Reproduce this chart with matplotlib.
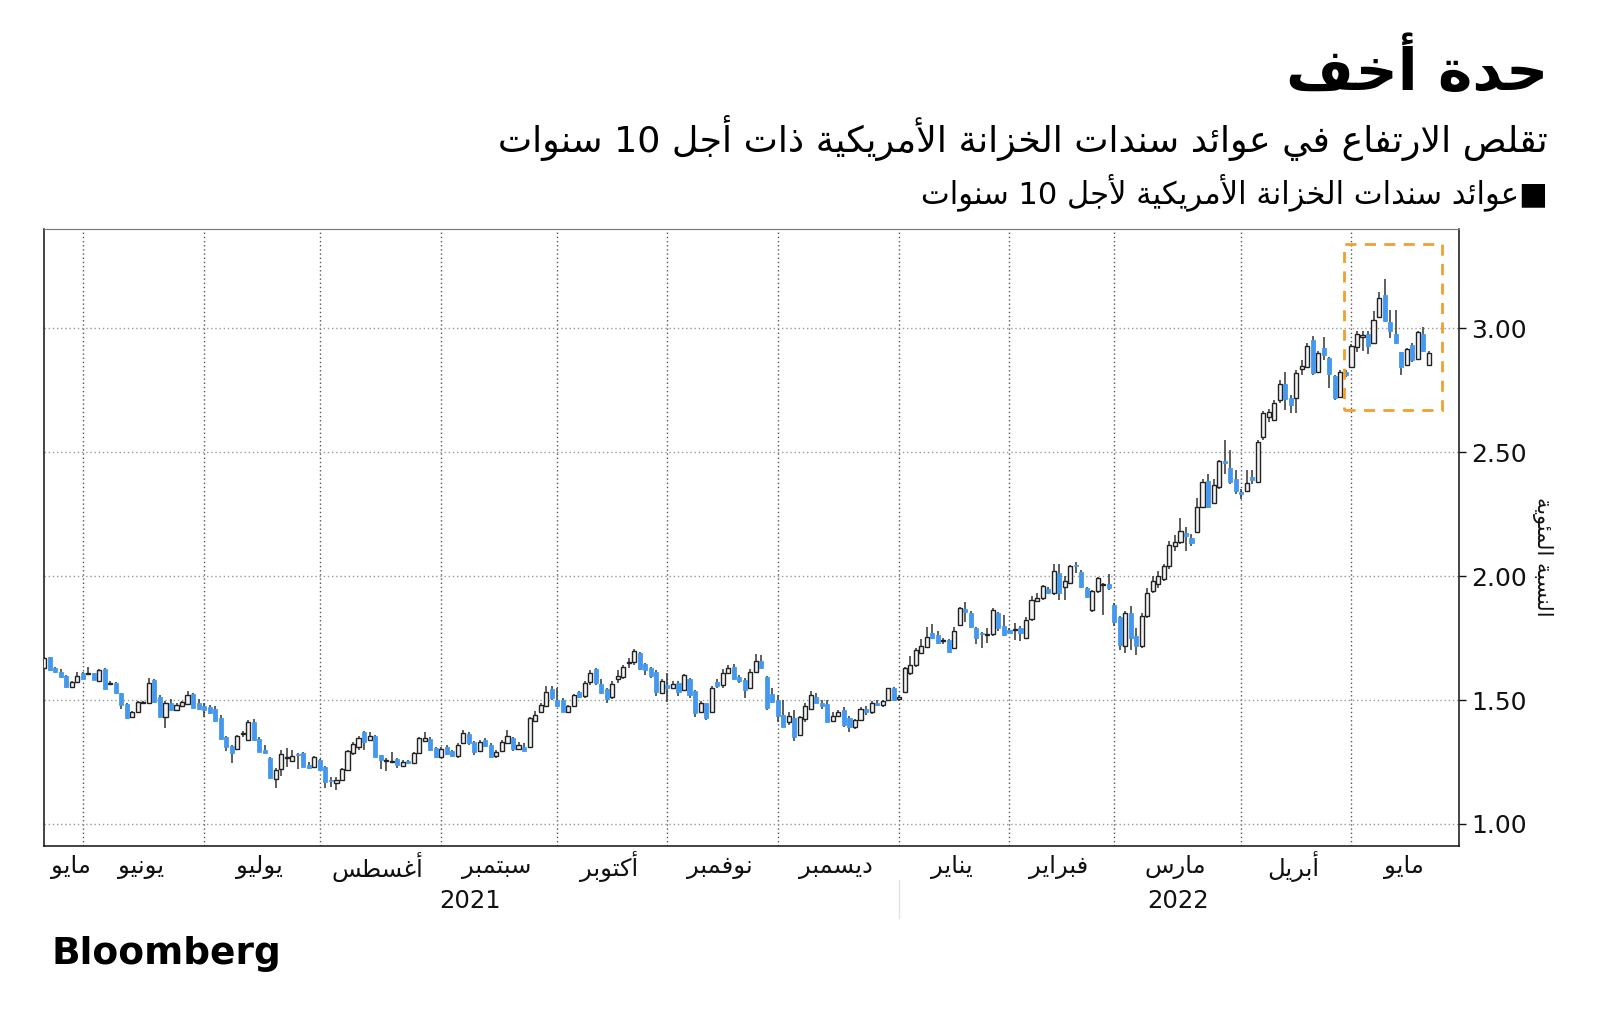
import re
import matplotlib
matplotlib.use('Agg')
import matplotlib.pyplot as plt
import matplotlib.patches as patches
import matplotlib.transforms as transforms
import matplotlib.ticker as ticker
import numpy as np
import pandas as pd

# trading days: 20 May 2021 - 20 May 2022, bond market holidays removed
holidays = ['2021-05-31', '2021-07-05', '2021-09-06', '2021-10-11', '2021-11-11',
            '2021-11-25', '2021-12-24', '2022-01-17', '2022-02-21', '2022-04-15']
dates = pd.bdate_range('2021-05-20', '2022-05-20')
dates = dates[~dates.isin(pd.to_datetime(holidays))]

month_names = ['مايو', 'يونيو', 'يوليو', 'أغسطس', 'سبتمبر', 'أكتوبر', 'نوفمبر',
               'ديسمبر', 'يناير', 'فبراير', 'مارس', 'أبريل', 'مايو']
years = ['2021', '2022']

# 10-year US Treasury yield, % (one row per month)
opens = [
    1.628, 1.672, 1.631, 1.614, 1.598, 1.554, 1.571,
    1.608, 1.604, 1.608, 1.577, 1.626, 1.565, 1.568, 1.527, 1.484, 1.433, 1.453, 1.490, 1.487, 1.581, 1.514, 1.433, 1.487, 1.460, 1.476, 1.483, 1.525, 1.487,
    1.474, 1.471, 1.464, 1.429, 1.350, 1.315, 1.301, 1.362, 1.339, 1.413, 1.343, 1.299, 1.265, 1.180, 1.221, 1.268, 1.255, 1.279, 1.285, 1.238, 1.231,
    1.258, 1.231, 1.176, 1.167, 1.178, 1.218, 1.285, 1.312, 1.370, 1.339, 1.355, 1.278, 1.254, 1.252, 1.261, 1.234, 1.254, 1.245, 1.288, 1.336, 1.343, 1.305,
    1.272, 1.312, 1.296, 1.275, 1.328, 1.363, 1.332, 1.296, 1.339, 1.319, 1.275, 1.296, 1.328, 1.346, 1.301, 1.312, 1.312, 1.415, 1.450, 1.474, 1.545,
    1.500, 1.500, 1.450, 1.476, 1.531, 1.516, 1.574, 1.624, 1.565, 1.543, 1.511, 1.584, 1.592, 1.648, 1.655, 1.689, 1.644, 1.631, 1.615, 1.530,
    1.562, 1.548, 1.568, 1.540, 1.584, 1.538, 1.453, 1.487, 1.453, 1.574, 1.561, 1.611, 1.632, 1.592, 1.581, 1.548, 1.615, 1.659, 1.592, 1.523,
    1.500, 1.440, 1.410, 1.427, 1.360, 1.422, 1.463, 1.514, 1.490, 1.484, 1.417, 1.436, 1.460, 1.427, 1.393, 1.420, 1.465, 1.450, 1.490, 1.480, 1.500, 1.547,
    1.505, 1.534, 1.608, 1.642, 1.689, 1.713, 1.770, 1.763, 1.737, 1.742, 1.709, 1.803, 1.866, 1.853, 1.790, 1.770, 1.764, 1.767, 1.850, 1.797,
    1.783, 1.782, 1.792, 1.750, 1.826, 1.900, 1.911, 1.947, 1.931, 2.014, 1.955, 1.974, 2.040, 2.018, 1.951, 1.864, 1.938, 1.966, 1.968,
    1.884, 1.834, 1.720, 1.850, 1.760, 1.720, 1.840, 1.940, 1.970, 1.990, 2.040, 2.122, 2.139, 2.175, 2.155, 2.176, 2.280, 2.385, 2.296, 2.359, 2.466, 2.435, 2.392,
    2.338, 2.345, 2.400, 2.381, 2.560, 2.640, 2.630, 2.711, 2.776, 2.718, 2.718, 2.835, 2.843, 2.953, 2.825, 2.920, 2.879, 2.808, 2.724, 2.825,
    2.843, 2.923, 2.964, 2.977, 2.940, 3.045, 3.135, 3.027, 2.977, 2.903, 2.852, 2.933, 2.875, 2.977, 2.852,
]
closes = [
    1.669, 1.622, 1.612, 1.592, 1.552, 1.574, 1.598,
    1.585, 1.608, 1.581, 1.622, 1.545, 1.568, 1.527, 1.480, 1.426, 1.453, 1.494, 1.492, 1.570, 1.494, 1.433, 1.490, 1.460, 1.480, 1.491, 1.521, 1.469, 1.463,
    1.460, 1.449, 1.417, 1.343, 1.312, 1.285, 1.355, 1.364, 1.413, 1.339, 1.292, 1.285, 1.185, 1.218, 1.281, 1.272, 1.274, 1.277, 1.231, 1.225, 1.269,
    1.218, 1.171, 1.172, 1.178, 1.220, 1.296, 1.323, 1.348, 1.332, 1.355, 1.272, 1.258, 1.256, 1.255, 1.238, 1.252, 1.245, 1.288, 1.346, 1.346, 1.299, 1.272,
    1.303, 1.284, 1.275, 1.319, 1.369, 1.328, 1.292, 1.332, 1.315, 1.272, 1.292, 1.332, 1.355, 1.301, 1.319, 1.296, 1.426, 1.440, 1.480, 1.531, 1.507,
    1.476, 1.453, 1.476, 1.520, 1.514, 1.568, 1.610, 1.568, 1.530, 1.503, 1.565, 1.597, 1.635, 1.652, 1.698, 1.626, 1.621, 1.597, 1.534, 1.577,
    1.548, 1.563, 1.534, 1.601, 1.520, 1.447, 1.487, 1.426, 1.547, 1.557, 1.611, 1.628, 1.584, 1.575, 1.541, 1.615, 1.659, 1.628, 1.467, 1.494,
    1.436, 1.393, 1.437, 1.350, 1.430, 1.474, 1.521, 1.490, 1.476, 1.413, 1.436, 1.450, 1.400, 1.393, 1.420, 1.465, 1.450, 1.490, 1.480, 1.495, 1.547, 1.500,
    1.512, 1.628, 1.642, 1.702, 1.716, 1.756, 1.749, 1.729, 1.739, 1.695, 1.780, 1.870, 1.857, 1.796, 1.749, 1.767, 1.768, 1.864, 1.790, 1.763,
    1.770, 1.785, 1.770, 1.823, 1.904, 1.913, 1.960, 1.933, 2.022, 1.931, 1.980, 2.039, 2.039, 1.958, 1.917, 1.938, 1.991, 1.970, 1.951,
    1.813, 1.722, 1.850, 1.750, 1.720, 1.840, 1.930, 1.980, 2.000, 2.040, 2.126, 2.139, 2.180, 2.162, 2.135, 2.280, 2.381, 2.280, 2.368, 2.466, 2.455, 2.381, 2.344,
    2.332, 2.377, 2.386, 2.543, 2.657, 2.664, 2.697, 2.776, 2.714, 2.691, 2.821, 2.848, 2.929, 2.819, 2.902, 2.893, 2.816, 2.718, 2.825, 2.812,
    2.929, 2.977, 2.973, 2.929, 3.034, 3.121, 3.031, 2.987, 2.940, 2.843, 2.915, 2.872, 2.983, 2.910, 2.902,
]
highs = [
    1.672, 1.675, 1.635, 1.624, 1.600, 1.576, 1.615,
    1.615, 1.632, 1.610, 1.625, 1.628, 1.575, 1.572, 1.530, 1.488, 1.456, 1.497, 1.497, 1.588, 1.585, 1.520, 1.495, 1.503, 1.490, 1.495, 1.538, 1.530, 1.503,
    1.487, 1.480, 1.475, 1.440, 1.355, 1.320, 1.360, 1.376, 1.420, 1.425, 1.350, 1.320, 1.270, 1.225, 1.300, 1.308, 1.300, 1.285, 1.290, 1.250, 1.275,
    1.262, 1.235, 1.190, 1.190, 1.225, 1.300, 1.330, 1.355, 1.375, 1.370, 1.360, 1.280, 1.265, 1.292, 1.265, 1.260, 1.258, 1.290, 1.350, 1.370, 1.350, 1.310,
    1.310, 1.320, 1.300, 1.325, 1.380, 1.370, 1.336, 1.340, 1.345, 1.325, 1.300, 1.340, 1.380, 1.350, 1.330, 1.325, 1.430, 1.455, 1.490, 1.555, 1.555,
    1.550, 1.510, 1.480, 1.525, 1.535, 1.575, 1.620, 1.630, 1.585, 1.550, 1.575, 1.620, 1.640, 1.670, 1.705, 1.695, 1.650, 1.635, 1.620, 1.585,
    1.608, 1.578, 1.575, 1.605, 1.590, 1.540, 1.495, 1.490, 1.555, 1.585, 1.625, 1.643, 1.645, 1.600, 1.590, 1.625, 1.685, 1.680, 1.595, 1.550,
    1.520, 1.500, 1.450, 1.460, 1.435, 1.490, 1.535, 1.530, 1.500, 1.500, 1.450, 1.460, 1.470, 1.435, 1.425, 1.470, 1.475, 1.495, 1.500, 1.500, 1.550, 1.552,
    1.520, 1.632, 1.678, 1.710, 1.745, 1.794, 1.806, 1.779, 1.749, 1.748, 1.796, 1.875, 1.897, 1.860, 1.795, 1.776, 1.790, 1.870, 1.855, 1.843,
    1.790, 1.810, 1.800, 1.835, 1.920, 1.930, 1.965, 1.955, 2.050, 2.050, 2.000, 2.045, 2.056, 2.025, 1.955, 1.945, 1.998, 1.972, 2.010,
    1.890, 1.840, 1.860, 1.880, 1.790, 1.850, 1.950, 2.000, 2.020, 2.050, 2.140, 2.165, 2.236, 2.200, 2.170, 2.315, 2.390, 2.410, 2.390, 2.470, 2.550, 2.510, 2.430,
    2.350, 2.430, 2.430, 2.550, 2.665, 2.675, 2.710, 2.790, 2.825, 2.730, 2.830, 2.870, 2.940, 2.970, 2.910, 2.965, 2.885, 2.810, 2.830, 2.830,
    2.935, 2.990, 2.990, 2.990, 3.070, 3.145, 3.200, 3.075, 3.075, 2.905, 2.920, 2.940, 2.990, 3.005, 2.910,
]
lows = [
    1.625, 1.618, 1.608, 1.590, 1.550, 1.552, 1.570,
    1.583, 1.600, 1.579, 1.575, 1.543, 1.560, 1.525, 1.465, 1.424, 1.430, 1.450, 1.486, 1.485, 1.490, 1.430, 1.386, 1.458, 1.456, 1.472, 1.480, 1.467, 1.460,
    1.433, 1.445, 1.412, 1.340, 1.295, 1.245, 1.298, 1.352, 1.335, 1.335, 1.290, 1.282, 1.180, 1.144, 1.195, 1.231, 1.250, 1.220, 1.228, 1.220, 1.228,
    1.215, 1.144, 1.148, 1.137, 1.175, 1.215, 1.280, 1.300, 1.300, 1.335, 1.270, 1.220, 1.215, 1.245, 1.225, 1.230, 1.240, 1.240, 1.285, 1.333, 1.295, 1.268,
    1.265, 1.280, 1.270, 1.265, 1.325, 1.320, 1.280, 1.290, 1.310, 1.265, 1.268, 1.290, 1.325, 1.295, 1.298, 1.293, 1.310, 1.410, 1.447, 1.470, 1.500,
    1.470, 1.450, 1.447, 1.470, 1.510, 1.510, 1.560, 1.560, 1.525, 1.490, 1.505, 1.570, 1.585, 1.630, 1.640, 1.620, 1.600, 1.590, 1.515, 1.525,
    1.494, 1.545, 1.515, 1.535, 1.510, 1.430, 1.450, 1.420, 1.450, 1.550, 1.550, 1.605, 1.580, 1.570, 1.510, 1.545, 1.610, 1.625, 1.460, 1.490,
    1.410, 1.390, 1.400, 1.335, 1.355, 1.410, 1.460, 1.487, 1.465, 1.410, 1.410, 1.430, 1.390, 1.370, 1.385, 1.415, 1.440, 1.445, 1.475, 1.470, 1.495, 1.495,
    1.495, 1.530, 1.600, 1.635, 1.685, 1.710, 1.745, 1.725, 1.726, 1.690, 1.705, 1.800, 1.816, 1.790, 1.726, 1.709, 1.730, 1.760, 1.780, 1.758,
    1.765, 1.743, 1.740, 1.745, 1.820, 1.897, 1.905, 1.928, 1.925, 1.905, 1.905, 1.970, 2.012, 1.952, 1.910, 1.855, 1.930, 1.843, 1.945,
    1.800, 1.700, 1.690, 1.700, 1.680, 1.710, 1.830, 1.930, 1.950, 1.980, 2.030, 2.100, 2.130, 2.100, 2.120, 2.175, 2.275, 2.275, 2.290, 2.350, 2.410, 2.370, 2.330,
    2.310, 2.340, 2.370, 2.375, 2.550, 2.620, 2.625, 2.700, 2.670, 2.660, 2.660, 2.810, 2.840, 2.810, 2.820, 2.870, 2.760, 2.710, 2.720, 2.805,
    2.840, 2.905, 2.910, 2.895, 2.935, 3.040, 3.025, 2.960, 2.935, 2.810, 2.850, 2.865, 2.870, 2.905, 2.850,
]

# matplotlib has no Arabic shaping: pick presentation forms by hand, then reverse
FORMS = {
    'ء': (0xFE80, 1), 'آ': (0xFE81, 2), 'أ': (0xFE83, 2), 'ؤ': (0xFE85, 2),
    'إ': (0xFE87, 2), 'ئ': (0xFE89, 4), 'ا': (0xFE8D, 2), 'ب': (0xFE8F, 4),
    'ة': (0xFE93, 2), 'ت': (0xFE95, 4), 'ث': (0xFE99, 4), 'ج': (0xFE9D, 4),
    'ح': (0xFEA1, 4), 'خ': (0xFEA5, 4), 'د': (0xFEA9, 2), 'ذ': (0xFEAB, 2),
    'ر': (0xFEAD, 2), 'ز': (0xFEAF, 2), 'س': (0xFEB1, 4), 'ش': (0xFEB5, 4),
    'ص': (0xFEB9, 4), 'ض': (0xFEBD, 4), 'ط': (0xFEC1, 4), 'ظ': (0xFEC5, 4),
    'ع': (0xFEC9, 4), 'غ': (0xFECD, 4), 'ف': (0xFED1, 4), 'ق': (0xFED5, 4),
    'ك': (0xFED9, 4), 'ل': (0xFEDD, 4), 'م': (0xFEE1, 4), 'ن': (0xFEE5, 4),
    'ه': (0xFEE9, 4), 'و': (0xFEED, 2), 'ى': (0xFEEF, 2), 'ي': (0xFEF1, 4),
}
LAM_ALEF = {'آ': 0xFEF5, 'أ': 0xFEF7, 'إ': 0xFEF9, 'ا': 0xFEFB}


def ar(text):
    units = []
    i = 0
    while i < len(text):
        ch = text[i]
        if ch == 'ل' and i + 1 < len(text) and text[i + 1] in LAM_ALEF:
            units.append((LAM_ALEF[text[i + 1]], 2))
            i += 2
            continue
        units.append(FORMS.get(ch, ch))
        i += 1
    out = []
    for j, u in enumerate(units):
        if isinstance(u, str):
            out.append(u)
            continue
        base, nf = u
        prev = units[j - 1] if j > 0 else None
        nxt = units[j + 1] if j + 1 < len(units) else None
        p = nf > 1 and isinstance(prev, tuple) and prev[1] == 4
        q = nf == 4 and isinstance(nxt, tuple) and nxt[1] > 1
        form = 3 if (p and q) else 1 if p else 2 if q else 0
        out.append(chr(base + form))
    s = ''.join(out)[::-1]
    return re.sub(r'[0-9][0-9.]*', lambda m: m.group()[::-1], s)


plt.rcParams['font.family'] = ['DejaVu Sans']

o = np.array(opens)
c = np.array(closes)
h = np.array(highs)
l = np.array(lows)
x = np.arange(len(dates))
up = c >= o

fig = plt.figure(figsize=(16, 10.33), dpi=100)
ax = fig.add_axes([0.0275, 0.181, 0.8844, 0.597])

blue = '#4499ee'
ax.vlines(x, l, h, color='#333333', lw=1.1, zorder=2)
body_bottom = np.minimum(o, c)
body_h = np.maximum(np.abs(c - o), 0.004)
ax.bar(x[up], body_h[up], bottom=body_bottom[up], width=0.74,
       color='#f4f4f4', edgecolor='#222222', linewidth=1.0, zorder=3)
ax.bar(x[~up], body_h[~up], bottom=body_bottom[~up], width=0.74,
       color=blue, edgecolor=blue, linewidth=0.6, zorder=3)

ax.set_xlim(-0.02, len(dates) + 4.5)
ax.set_ylim(0.911, 3.399)

# month grid lines at the first trading day of each month
per = dates.to_period('M')
months = per.unique()
first_idx = [int(np.where(per == m)[0][0]) for m in months]
last_idx = [int(np.where(per == m)[0][-1]) for m in months]
for fi in first_idx[1:]:
    ax.axvline(fi, color='#555555', lw=1, ls=(0, (1, 2)), zorder=1)

ax.yaxis.set_major_locator(ticker.MultipleLocator(0.5))
ax.yaxis.set_major_formatter(ticker.FormatStrFormatter('%.2f'))
ax.yaxis.tick_right()
ax.tick_params(axis='y', length=5, width=1, pad=3.5, labelsize=18, colors='#111111')
ax.set_xticks([])
ax.grid(axis='y', color='#999999', lw=1, ls=(0, (1, 2)), zorder=1)
for s in ax.spines.values():
    s.set_color('#111111')
    s.set_linewidth(1.1)
ax.spines['top'].set_color('#777777')
ax.spines['top'].set_linewidth(0.8)

trans = transforms.blended_transform_factory(ax.transData, ax.transAxes)
x0, x1 = ax.get_xlim()
for k, name in enumerate(month_names):
    a = max(first_idx[k] - 0.5, x0)
    b = min(last_idx[k] + 0.5, x1)
    if k == 0:
        ax.text(x0 + 1.25, -0.034, ar(name), transform=trans, ha='left', va='center',
                fontsize=17.5, color='#111111')
    else:
        if k == len(month_names) - 1:
            b = x1
        ax.text((a + b) / 2, -0.034, ar(name), transform=trans, ha='center', va='center',
                fontsize=17.5, color='#111111')

yr = dates.year
for name in years:
    idx = np.where(yr == int(name))[0]
    a = max(idx[0] - 0.5, x0)
    b = x1 if name == years[-1] else idx[-1] + 0.5
    ax.text((a + b) / 2, -0.089, name, transform=trans, ha='center', va='center',
            fontsize=17.5, color='#111111')
ax.plot([first_idx[8], first_idx[8]], [-0.055, -0.117], transform=trans,
        color='#e2e2e2', lw=1, clip_on=False)

# dashed box around May 2022
may_i = np.where(per == months[-1])[0]
box = patches.Rectangle((may_i[0] - 1.3, l[may_i].min() - 0.14),
                        may_i[-1] - may_i[0] + 3.7,
                        h[may_i].max() - l[may_i].min() + 0.28,
                        fill=False, ec='#f0a030', lw=2, ls=(0, (4, 3)), zorder=4)
ax.add_patch(box)

ax.text(1.059, 0.469, ar('النسبة المئوية'), transform=ax.transAxes, rotation=270,
        ha='center', va='center', fontsize=15, color='#111111')

fig.text(0.9675, 0.930, ar('حدة أخف'), ha='right', va='center', fontsize=42,
         fontweight='bold', color='#000000')
fig.text(0.9675, 0.866, ar('تقلص الارتفاع في عوائد سندات الخزانة الأمريكية ذات أجل 10 سنوات'),
         ha='right', va='center', fontsize=26.2, color='#000000')
fig.text(0.9675, 0.814, ar('■عوائد سندات الخزانة الأمريكية لأجل 10 سنوات'),
         ha='right', va='center', fontsize=22, color='#000000')
fig.text(0.032, 0.0765, 'Bloomberg', ha='left', va='center', fontsize=27,
         fontweight='bold', color='#000000')

fig.savefig('out.png', dpi=100, facecolor='white')
